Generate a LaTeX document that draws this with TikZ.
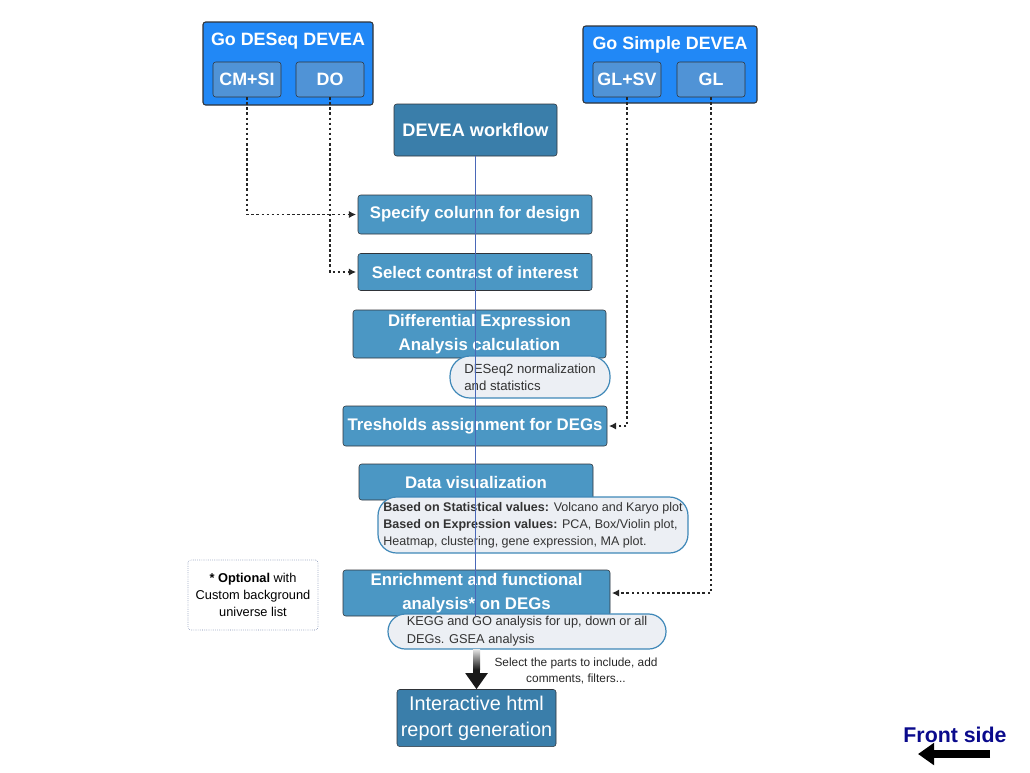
\documentclass[tikz,border=0pt]{standalone}
\usepackage{fontspec}
\setmainfont{Liberation Sans}
\usetikzlibrary{positioning,arrows.meta,calc}
\definecolor{goblue}{HTML}{2188F6}
\definecolor{subblue}{HTML}{5093D6}
\definecolor{wfblue}{HTML}{3A7EAA}
\definecolor{stepblue}{HTML}{4B97C4}
\definecolor{bubfill}{HTML}{ECEFF4}
\definecolor{bubline}{HTML}{3F88B8}
\definecolor{edge}{HTML}{2F3338}
\definecolor{axis}{HTML}{4A68B8}
\definecolor{optline}{HTML}{7080A8}
\definecolor{navy}{HTML}{0A0A8C}
\tikzset{
  gobox/.style={draw=edge, fill=goblue, rounded corners=2pt, line width=0.8pt},
  gotitle/.style={text=white, font=\fontsize{13.4}{15}\selectfont\bfseries},
  subbox/.style={draw=edge, fill=subblue, rounded corners=2pt, minimum width=51pt, minimum height=26.25pt, text=white, font=\fontsize{13.4}{15}\selectfont\bfseries},
  stepbox/.style={draw=edge, fill=stepblue, rounded corners=2pt, text=white, align=center, inner sep=1pt, font=\fontsize{12.6}{18}\selectfont\bfseries},
  bubble/.style={draw=bubline, fill=bubfill, line width=0.9pt, align=left, text=black!80, inner sep=1pt, font=\fontsize{9.6}{12.6}\selectfont},
  conn/.style={dash pattern=on 2pt off 1.8pt, line width=1.1pt, black!85, shorten >=1.2pt, -{Latex[length=5.5pt,width=5.5pt]}}}
\begin{document}
\begin{tikzpicture}[x=0.75pt, y=-0.75pt]
\useasboundingbox (0,0) rectangle (1030,772);
% the two launchers
\node[gobox, minimum width=127.5pt, minimum height=62.25pt] (deseq) at (288,63.5) {};
\node[gotitle] (deseqt) at (288,41) {Go DESeq DEVEA};
\node[subbox] (cmsi) at (247,79.5) {CM+SI};
\node[subbox] (do) at (330,79.5) {DO};
\node[gobox, minimum width=130.5pt, minimum height=57.75pt] (simple) at (670,64.5) {};
\node[gotitle] (simplet) at (670,45) {Go Simple DEVEA};
\node[subbox] (glsv) at (627,79.5) {GL+SV};
\node[subbox] (gl) at (711,79.5) {GL};
% workflow steps
\node[stepbox, fill=wfblue, minimum width=122.25pt, minimum height=39pt, font=\fontsize{13.6}{16}\selectfont\bfseries] (wf) at (475.5,130) {DEVEA workflow};
\node[stepbox, minimum width=175.5pt, minimum height=29.25pt] (spec) at (475,214.5) {Specify column for design};
\node[stepbox, minimum width=175.5pt, minimum height=27.75pt] (sel) at (475,272) {Select contrast of interest};
\node[stepbox, minimum width=189.75pt, minimum height=36pt] (dea) at (479.5,334) {Differential Expression\\Analysis calculation};
\node[stepbox, minimum width=198pt, minimum height=30pt] (tres) at (475,426) {Tresholds assignment for DEGs};
\node[stepbox, minimum width=175.5pt, minimum height=27pt] (vis) at (476,482) {Data visualization};
\node[stepbox, minimum width=200.25pt, minimum height=34.5pt] (enr) at (476.5,593) {Enrichment and functional\\analysis* on DEGs};
\node[stepbox, fill=wfblue, minimum width=119.25pt, minimum height=42.75pt, font=\fontsize{14.9}{19.5}\selectfont] (rep) at (476.5,718) {Interactive html\\report generation};
% notes under the steps
\node[bubble, rounded corners=15pt, minimum width=120pt, minimum height=31.5pt, font=\fontsize{9.9}{12.6}\selectfont] (deseqb) at (530,377) {DESeq2 normalization\\and statistics};
\node[bubble, rounded corners=14pt, minimum width=232.5pt, minimum height=42pt, font=\fontsize{9.4}{12.6}\selectfont] (visb) at (533,525) {\textbf{Based on Statistical values:} Volcano and Karyo plot\\\textbf{Based on Expression values:} PCA, Box/Violin plot,\\Heatmap, clustering, gene expression, MA plot.};
\node[bubble, rounded corners=13pt, minimum width=208.5pt, minimum height=26.25pt, font=\fontsize{9.6}{13.5}\selectfont] (enrb) at (527,631.5) {KEGG and GO analysis for up, down or all\\DEGs. GSEA analysis};
\node[draw=optline, densely dotted, rounded corners=2pt, minimum width=97.5pt, minimum height=52.5pt, align=center, font=\fontsize{9.6}{12.75}\selectfont] (opt) at (253,595) {\textbf{* Optional} with\\Custom background\\universe list};
\node[align=center, text=black!85, font=\fontsize{8.9}{12}\selectfont] (parts) at (576,671) {Select the parts to include, add\\comments, filters...};
% main axis
\draw[axis, line width=0.8pt] (wf.south) -- (wf.south |- enr.south);
% launcher connectors
\draw[conn] (cmsi.south) |- (spec.west);
\draw[conn] (do.south) |- (sel.west);
\draw[conn] (glsv.south) |- (tres.east);
\draw[conn] (gl.south) |- (enr.east);
% report arrow
\draw[line width=5.25pt, black!90, -{Triangle[width=16pt,length=12pt]}] (rep.north |- enrb.south) -- (rep.north);
\shade[top color=black!12, bottom color=black!90] ($(rep.north |- enrb.south)+(-3.5,0)$) rectangle ($(rep.north |- enrb.south)+(3.5,20)$);
% front side
\node[text=navy, font=\fontsize{16}{18}\selectfont\bfseries] (front) at (955,735) {Front side};
\coordinate (fsa) at (990,754);
\coordinate (fsb) at (918,754);
\draw[line width=6pt, -{Triangle[width=16pt,length=12pt]}] (fsa) -- (fsb);
\end{tikzpicture}
\end{document}
